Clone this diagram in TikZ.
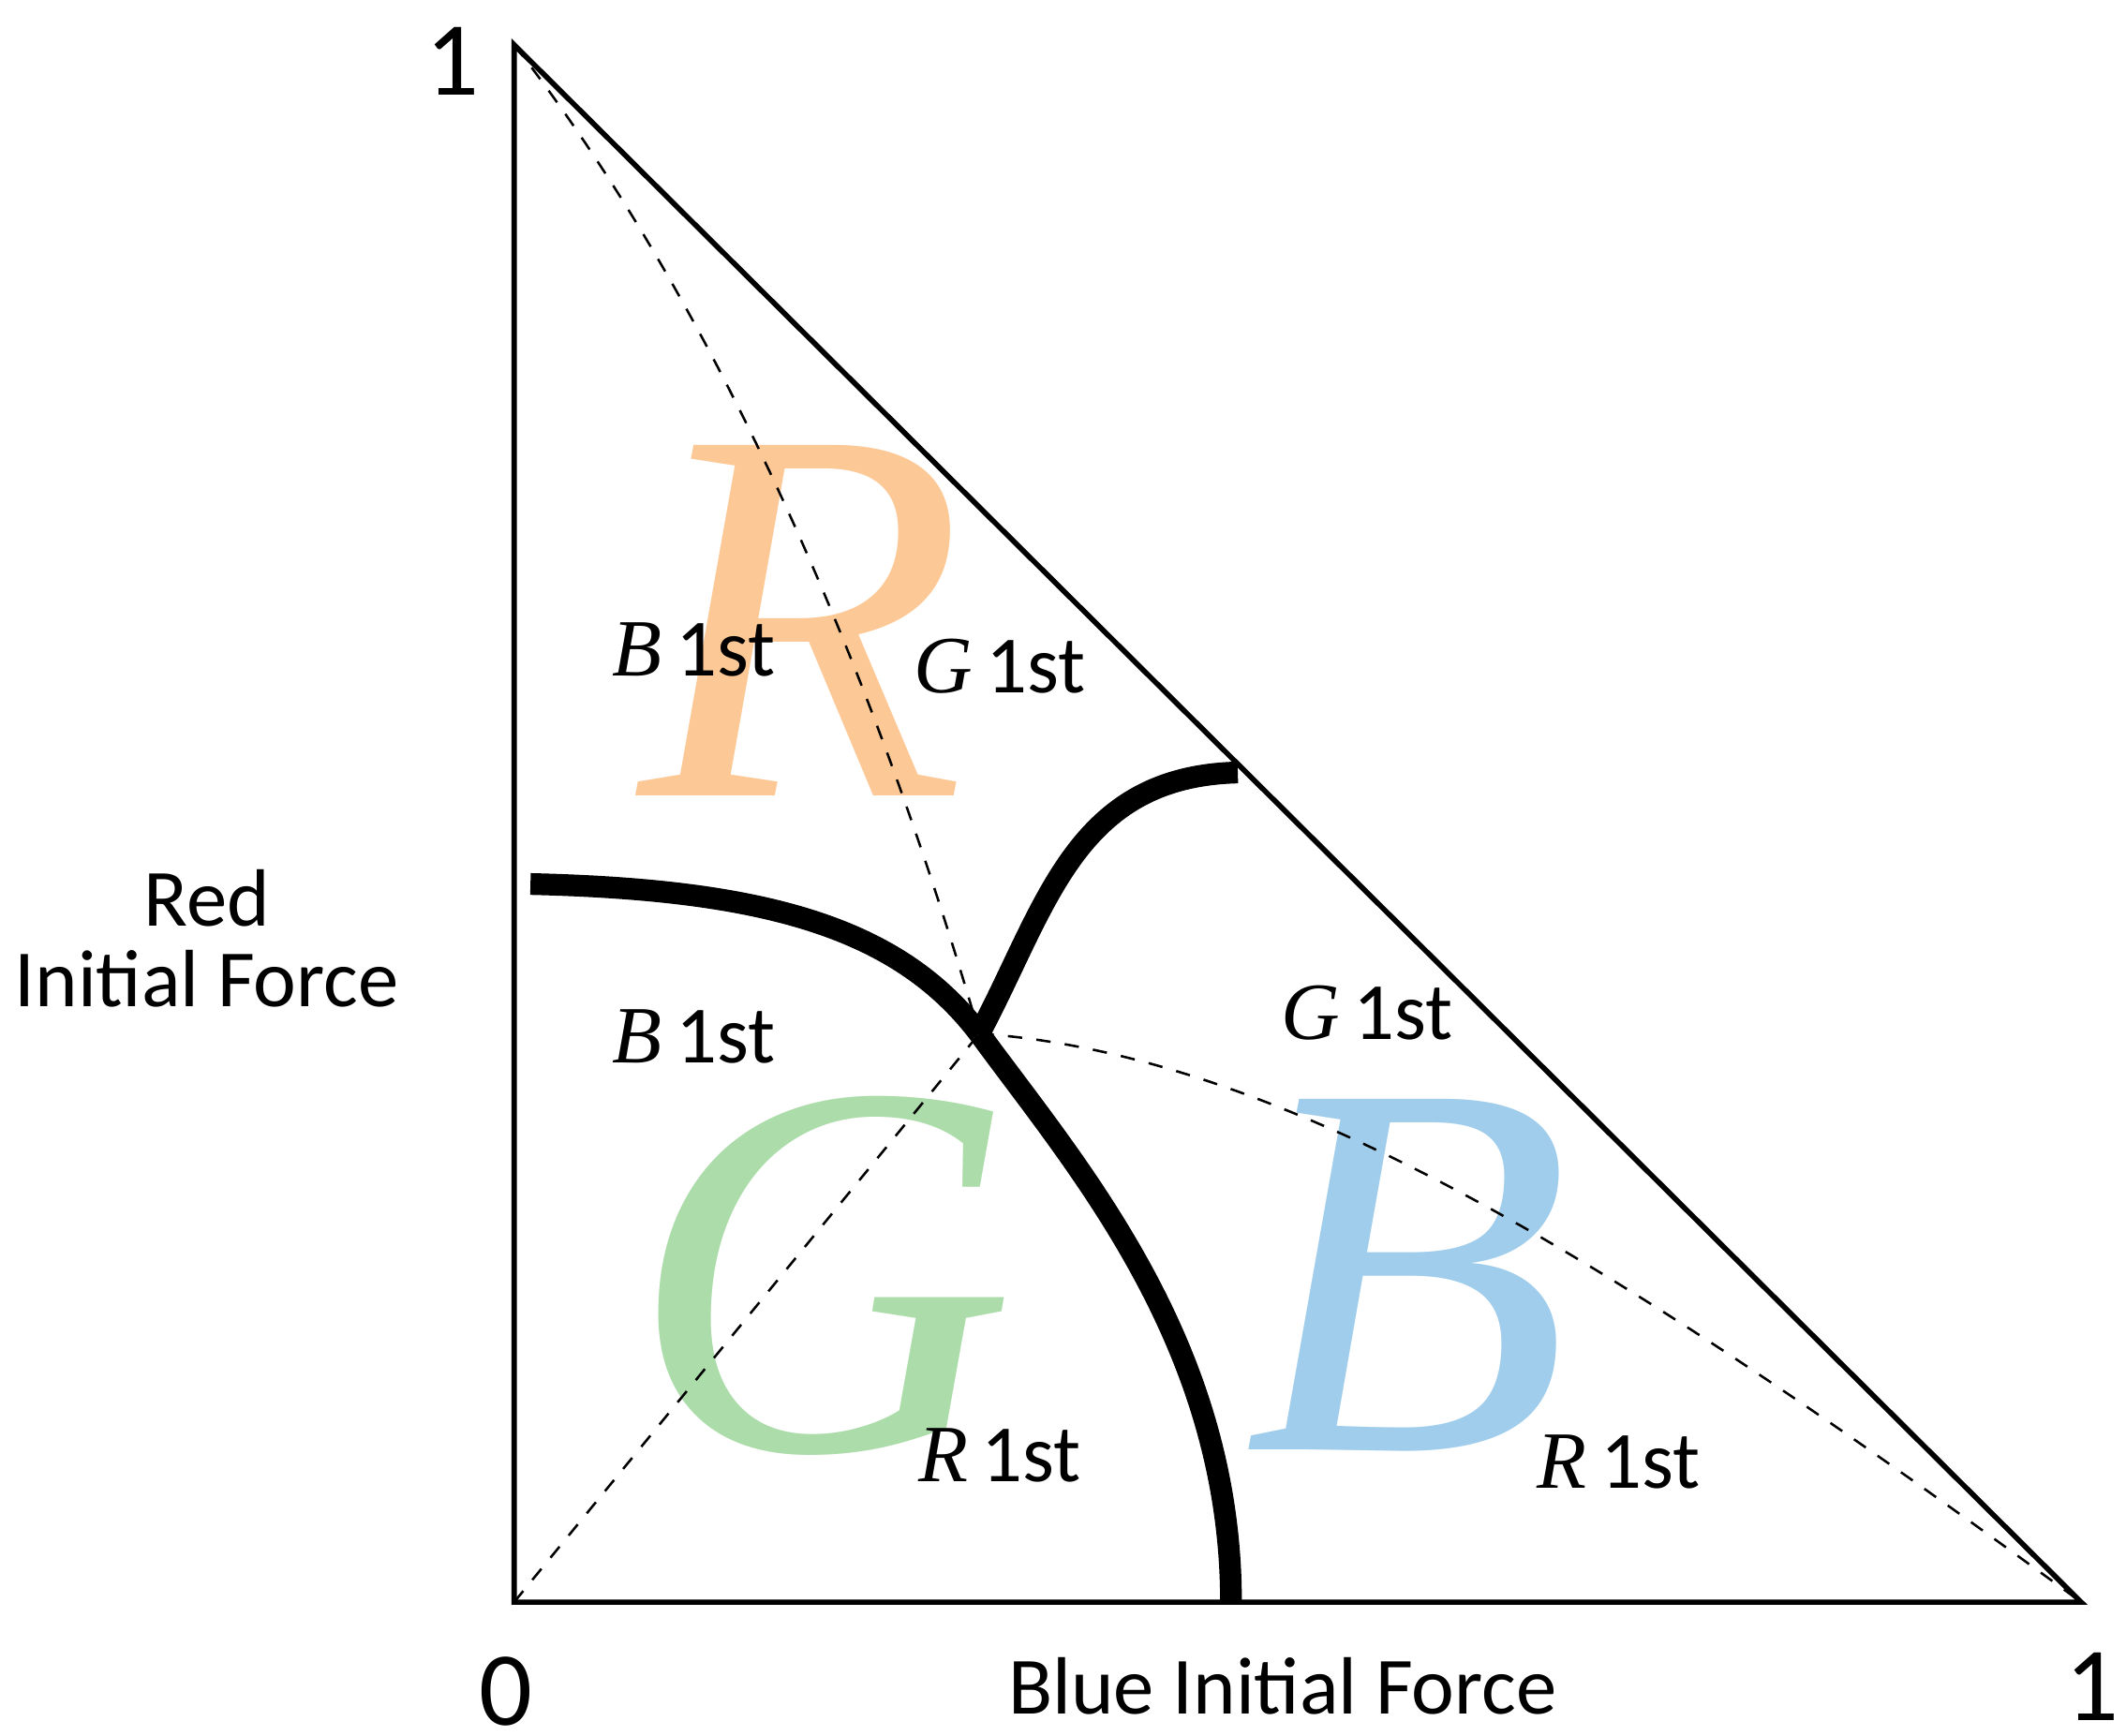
\documentclass[tikz,border=0pt]{standalone}
\usepackage{fontspec}
\setmainfont{Carlito}
\newfontfamily\tnr{Liberation Serif}
\definecolor{cR}{RGB}{252,200,150}
\definecolor{cG}{RGB}{172,220,170}
\definecolor{cB}{RGB}{160,205,235}
\tikzset{big/.style={font=\tnr\itshape\fontsize{112}{112}\selectfont},
lab/.style={font=\fontsize{17}{17}\selectfont},
num/.style={font=\fontsize{22}{22}\selectfont},
thick line/.style={line width=1.6mm},
dash line/.style={dashed, line width=0.5pt}}
\newcommand{\fst}[1]{{\tnr\itshape #1}\,1st}
\begin{document}
\begin{tikzpicture}
\useasboundingbox (0,0) rectangle (15.63,12.76);
\node[big,text=cR] (bR) at (5.9,8.2) {R};
\node[big,text=cG] (bG) at (6.05,3.38) {G};
\node[big,text=cB] (bB) at (10.35,3.38) {B};
\coordinate (O) at (3.78,0.98);
\coordinate (T) at (3.78,12.43);
\coordinate (Rr) at (15.30,0.98);
\coordinate (X) at (7.2,5.16);
\coordinate (A) at (3.90,6.26);
\coordinate (Bt) at (9.05,0.98);
\coordinate (C) at (9.10,7.08);
\draw[line width=1.1pt] (T) -- (O) -- (Rr) -- cycle;
\draw[dash line] (T) .. controls (4.9,11.0) and (6.2,8.6) .. (X);
\draw[dash line] (O) -- (X);
\draw[dash line] (X) .. controls (9.5,5.0) and (12,3.4) .. (Rr);
\draw[thick line] (A) .. controls (5.6,6.22) and (6.6,5.95) .. (X);
\draw[thick line] (X) .. controls (7.9,4.2) and (9.05,2.9) .. (Bt);
\draw[thick line] (X) .. controls (7.7,6.1) and (7.9,7.05) .. (C);
\node[lab] (l1) at (5.10,7.98) {\fst{B}};
\node[lab] (l2) at (7.35,7.86) {\fst{G}};
\node[lab] (l3) at (5.10,5.14) {\fst{B}};
\node[lab] (l4) at (10.05,5.31) {\fst{G}};
\node[lab] (l5) at (7.35,2.06) {\fst{R}};
\node[lab] (l6) at (11.90,2.01) {\fst{R}};
\node[lab,align=center] (ya) at (1.52,5.86) {Red\\Initial Force};
\node[lab] (xa) at (9.43,0.36) {Blue Initial Force};
\node[num] (n0) at (3.72,0.32) {0};
\node[num] (n1) at (15.38,0.36) {1};
\node[num] (n2) at (3.33,12.31) {1};
\end{tikzpicture}
\end{document}
